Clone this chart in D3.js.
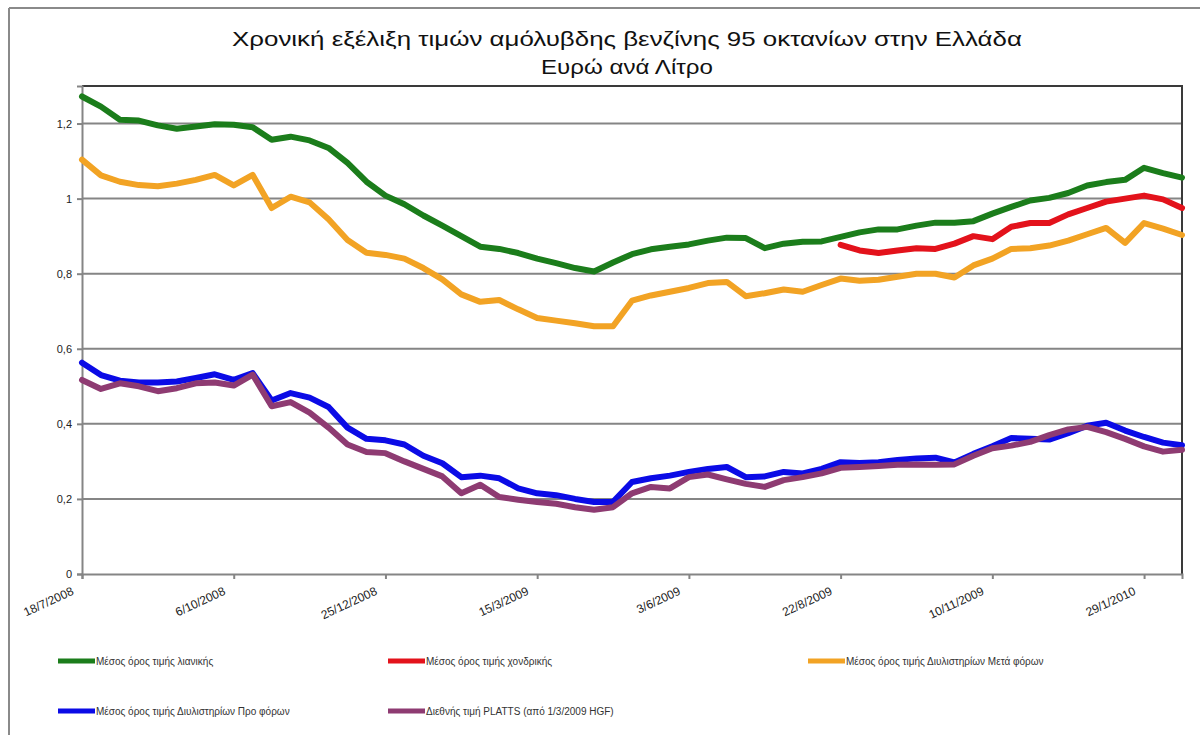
<!DOCTYPE html>
<html>
<head>
<meta charset="utf-8">
<script src="https://cdn.jsdelivr.net/npm/d3@7"></script>
<style>
  html, body { margin: 0; padding: 0; background: #fff; }
  svg { display: block; }
</style>
</head>
<body>
<svg id="chart" width="1200" height="735"></svg>
<script>
// ---- Data (€ per litre, samples every ~10 days) ----
const tickLabels = ["18/7/2008", "6/10/2008", "25/12/2008", "15/3/2009", "3/6/2009", "22/8/2009", "10/11/2009", "29/1/2010"];
const tickIndex = [0, 8, 16, 24, 32, 40, 48, 56];
const yTicks = [0, 0.2, 0.4, 0.6, 0.8, 1, 1.2];

const retail = [1.272, 1.245, 1.21, 1.208, 1.195, 1.186, 1.192, 1.198, 1.197, 1.19,
  1.157, 1.165, 1.155, 1.135, 1.095, 1.045, 1.008, 0.985, 0.955, 0.928,
  0.9, 0.872, 0.866, 0.855, 0.84, 0.828, 0.815, 0.806, 0.83, 0.852,
  0.865, 0.872, 0.878, 0.888, 0.896, 0.895, 0.868, 0.88, 0.885, 0.886,
  0.898, 0.91, 0.918, 0.918, 0.928, 0.936, 0.936, 0.94, 0.96, 0.978,
  0.995, 1.002, 1.015, 1.035, 1.044, 1.05, 1.082, 1.068, 1.056];

const wholesale = [null, null, null, null, null, null, null, null, null, null,
  null, null, null, null, null, null, null, null, null, null,
  null, null, null, null, null, null, null, null, null, null,
  null, null, null, null, null, null, null, null, null, null,
  0.877, 0.862, 0.855, 0.862, 0.868, 0.866, 0.88, 0.9, 0.892, 0.925,
  0.935, 0.935, 0.958, 0.975, 0.992, 1.0, 1.008, 0.998, 0.975];

const refineryAfterTax = [1.104, 1.062, 1.045, 1.036, 1.033, 1.04, 1.05, 1.063, 1.035, 1.063,
  0.975, 1.005, 0.99, 0.945, 0.89, 0.856, 0.85, 0.84, 0.815, 0.785,
  0.745, 0.725, 0.73, 0.705, 0.682, 0.675, 0.668, 0.66, 0.66, 0.728,
  0.742, 0.752, 0.762, 0.775, 0.778, 0.74, 0.748, 0.758, 0.752, 0.77,
  0.787, 0.781, 0.784, 0.792, 0.8, 0.8, 0.79, 0.822, 0.84, 0.866,
  0.868, 0.875, 0.888, 0.905, 0.922, 0.882, 0.935, 0.92, 0.903];

const refineryPreTax = [0.563, 0.53, 0.515, 0.51, 0.51, 0.513, 0.522, 0.532, 0.517, 0.535,
  0.462, 0.482, 0.47, 0.445, 0.39, 0.36, 0.356, 0.345, 0.315, 0.295,
  0.258, 0.262, 0.255, 0.228, 0.215, 0.21, 0.2, 0.192, 0.192, 0.245,
  0.255, 0.262, 0.272, 0.28, 0.285, 0.258, 0.26, 0.272, 0.268, 0.28,
  0.298, 0.296, 0.298, 0.304, 0.308, 0.31, 0.297, 0.32, 0.34, 0.362,
  0.36, 0.358, 0.375, 0.395, 0.403, 0.382, 0.365, 0.35, 0.343];

const platts = [0.517, 0.493, 0.508, 0.5, 0.487, 0.495, 0.508, 0.51, 0.502, 0.531,
  0.447, 0.458, 0.43, 0.39, 0.345, 0.325, 0.322, 0.3, 0.28, 0.26,
  0.215, 0.238, 0.205, 0.198, 0.192, 0.187, 0.178, 0.171, 0.178, 0.215,
  0.232, 0.228, 0.258, 0.265, 0.252, 0.24, 0.232, 0.25, 0.258, 0.268,
  0.283, 0.285, 0.288, 0.291, 0.292, 0.291, 0.292, 0.315, 0.335, 0.342,
  0.352, 0.37, 0.385, 0.392, 0.378, 0.36, 0.34, 0.326, 0.331];

const seriesNames = [
  "Μέσος όρος τιμής λιανικής",
  "Μέσος όρος τιμής χονδρικής",
  "Μέσος όρος τιμής Διυλιστηρίων Μετά φόρων",
  "Μέσος όρος τιμής Διυλιστηρίων Προ φόρων",
  "Διεθνής τιμή PLATTS (από 1/3/2009 HGF)"
];
const seriesColors = ["#1b7d1b", "#e3121b", "#f2a324", "#0b0be6", "#8e3b72"];
const seriesValues = [retail, wholesale, refineryAfterTax, refineryPreTax, platts];

// ---- Layout ----
const svg = d3.select("#chart");
const margin = { left: 82, right: 1182, top: 86, bottom: 574 };
const nPts = retail.length;

const x = d3.scaleLinear().domain([0, nPts - 1]).range([margin.left, margin.right]);
const y = d3.scaleLinear().domain([0, 1.3]).range([margin.bottom, margin.top]);

// outer chart border (left + top visible)
svg.append("line").attr("x1", 9).attr("x2", 9).attr("y1", 8).attr("y2", 735)
  .attr("stroke", "#8a8a8a").attr("stroke-width", 2);
svg.append("line").attr("x1", 9).attr("x2", 1200).attr("y1", 8).attr("y2", 8)
  .attr("stroke", "#8a8a8a").attr("stroke-width", 2);

// title
const title = svg.append("g").attr("font-family", "'Liberation Sans Narrow', 'Liberation Sans', Arial, sans-serif")
  .attr("fill", "#111").attr("text-anchor", "middle");
title.append("text").attr("x", 627).attr("y", 46).attr("font-size", 21)
  .attr("textLength", 790).attr("lengthAdjust", "spacingAndGlyphs")
  .text("Χρονική εξέλιξη τιμών αμόλυβδης βενζίνης 95 οκτανίων στην Ελλάδα");
title.append("text").attr("x", 627).attr("y", 74).attr("font-size", 21)
  .attr("textLength", 172).attr("lengthAdjust", "spacingAndGlyphs")
  .text("Ευρώ ανά Λίτρο");

// gridlines
svg.append("g").selectAll("line").data(yTicks.filter(d => d > 0)).join("line")
  .attr("x1", margin.left).attr("x2", margin.right)
  .attr("y1", d => y(d)).attr("y2", d => y(d))
  .attr("stroke", "#858585").attr("stroke-width", 2);

// plot frame top & right
svg.append("path")
  .attr("d", `M${margin.left},${margin.top}H${margin.right}V${margin.bottom}`)
  .attr("fill", "none").attr("stroke", "#3a3a3a").attr("stroke-width", 2);

// y axis
const yAxis = svg.append("g").attr("transform", `translate(${margin.left},0)`)
  .call(d3.axisLeft(y).tickValues(yTicks).tickSize(5)
    .tickFormat(d => d3.format(".1~f")(d).replace(".", ",")));
yAxis.select(".domain").attr("stroke", "#858585").attr("stroke-width", 2);
yAxis.selectAll(".tick line").attr("stroke", "#858585").attr("stroke-width", 2);
yAxis.selectAll(".tick text").attr("font-family", "'Liberation Sans', Arial, sans-serif")
  .attr("font-size", 11).attr("fill", "#222").attr("x", -10);

// x axis
const xAxis = svg.append("g").attr("transform", `translate(0,${margin.bottom})`)
  .call(d3.axisBottom(x).tickValues(tickIndex).tickSize(5)
    .tickFormat((d, i) => tickLabels[i]));
xAxis.select(".domain").attr("stroke", "#858585").attr("stroke-width", 2);
xAxis.selectAll(".tick line").attr("stroke", "#858585").attr("stroke-width", 2);
xAxis.selectAll(".tick text")
  .attr("font-family", "'Liberation Sans', Arial, sans-serif")
  .attr("font-size", 12).attr("fill", "#222")
  .attr("text-anchor", "end").attr("dy", 0).attr("y", 0)
  .attr("transform", "translate(-8,20) rotate(-25)");

// lines
const line = d3.line()
  .defined(d => d != null)
  .x((d, i) => x(i))
  .y(d => y(d));

const drawOrder = [0, 2, 1, 3, 4];
drawOrder.forEach(k => {
  svg.append("path")
    .datum(seriesValues[k])
    .attr("fill", "none")
    .attr("stroke", seriesColors[k])
    .attr("stroke-width", 6)
    .attr("stroke-linejoin", "round")
    .attr("stroke-linecap", "round")
    .attr("d", line);
});

// legend
const legendPos = [
  { x: 58, y: 661 }, { x: 388, y: 661 }, { x: 808, y: 661 },
  { x: 58, y: 711 }, { x: 388, y: 711 }
];
const legend = svg.append("g").attr("font-family", "'Liberation Sans', Arial, sans-serif");
seriesNames.forEach((name, k) => {
  const p = legendPos[k];
  const g = legend.append("g").attr("transform", `translate(${p.x},${p.y})`);
  g.append("line").attr("x1", 0).attr("x2", 37).attr("y1", 0).attr("y2", 0)
    .attr("stroke", seriesColors[k]).attr("stroke-width", 5);
  g.append("text").attr("x", 38).attr("y", 4).attr("font-size", 10)
    .attr("fill", "#333").text(name);
});
</script>
</body>
</html>
